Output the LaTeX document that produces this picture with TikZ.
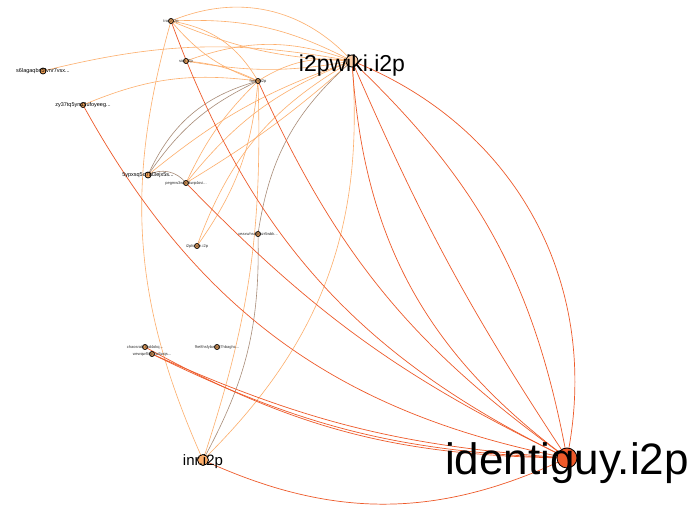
\documentclass[tikz,border=0pt]{standalone}
\usepackage{fontspec}
\setmainfont{Liberation Sans}
\begin{document}
\begin{tikzpicture}[x=1pt,y=-1pt,
  lo/.style={draw=lightor,line width=0.6pt},
  ro/.style={draw=redor,line width=0.7pt},
  br/.style={draw=brownish,line width=0.6pt},
  dot/.style={circle,draw=black,line width=0.8pt,fill=nodeor,inner sep=0pt,minimum size=5pt},
  tiny/.style={font=\fontsize{4}{4}\selectfont,text=black!80,inner sep=0pt},
  small/.style={font=\fontsize{5.5}{5.5}\selectfont,inner sep=0pt}]
\definecolor{lightor}{HTML}{FDAE6B}
\definecolor{redor}{HTML}{EE5A2A}
\definecolor{brownish}{HTML}{A88C78}
\definecolor{nodeor}{HTML}{F5A55A}
\useasboundingbox (0,0) rectangle (689,510);
\fill[white] (0,0) rectangle (689,510);
% node positions
\coordinate (A) at (171,21);
\coordinate (B) at (186,61);
\coordinate (C) at (258,81);
\coordinate (D) at (352,61);
\coordinate (E) at (43,71);
\coordinate (F) at (83,105);
\coordinate (G) at (148,175);
\coordinate (H) at (186,183);
\coordinate (I) at (197,246);
\coordinate (J) at (258,234);
\coordinate (K) at (145,347);
\coordinate (L) at (152,354);
\coordinate (M) at (217,347);
\coordinate (N) at (203,460);
\coordinate (O) at (567,458);
% light orange edges
\draw[lo] (A) to[bend left=35] (D);
\draw[lo] (A) to[bend left=15] (D);
\draw[lo] (A) to[bend right=10] (D);
\draw[lo] (A) to[bend left=25] (C);
\draw[lo] (A) to[bend right=15] (C);
\draw[lo] (B) to[bend left=20] (D);
\draw[lo] (B) to[bend right=10] (D);
\draw[lo] (B) to[bend left=10] (C);
\draw[lo] (C) to[bend left=20] (D);
\draw[lo] (E) to[bend left=12] (D);
\draw[lo] (F) to[bend left=15] (C);
\draw[lo] (G) to[bend left=10] (D);
\draw[lo] (H) to[bend left=15] (D);
\draw[lo] (H) to[bend right=5] (D);
\draw[lo] (H) to[bend left=10] (C);
\draw[lo] (I) to[bend left=20] (D);
\draw[lo] (I) to[bend right=15] (C);
\draw[lo] (N) to[bend right=25] (D);
\draw[lo] (N) to[bend left=20] (A);
\draw[lo] (N) to[bend right=10] (C);
% brown edges
\draw[br] (G) to[bend left=25] (C);
\draw[br] (G) to[bend left=15] (C);
\draw[br] (G) to[bend left=40] (H);
\draw[br] (D) to[bend right=20] (J);
\draw[br] (J) to[bend left=15] (N);
% red edges
\draw[ro] (D) to[bend left=40] (O);
\draw[ro] (D) to[bend left=18] (O);
\draw[ro] (D) to[bend right=5] (O);
\draw[ro] (D) to[bend right=25] (O);
\draw[ro] (A) to[bend right=22] (O);
\draw[ro] (C) to[bend right=15] (O);
\draw[ro] (F) to[bend right=25] (O);
\draw[ro] (H) to[bend right=10] (O);
\draw[ro] (K) to[bend right=14] (O);
\draw[ro] (L) to[bend right=10] (O);
\draw[ro] (L) to[bend right=12] (O);
\draw[ro] (N) to[bend right=25] (O);
% nodes
\node[dot] (nA) at (A) {};
\node[dot] (nB) at (B) {};
\node[dot] (nC) at (C) {};
\node[dot,minimum size=12pt,fill=lightor!60] (nD) at (D) {};
\node[dot,minimum size=6pt] (nE) at (E) {};
\node[dot] (nF) at (F) {};
\node[dot,minimum size=6pt] (nG) at (G) {};
\node[dot] (nH) at (H) {};
\node[dot] (nI) at (I) {};
\node[dot] (nJ) at (J) {};
\node[dot] (nK) at (K) {};
\node[dot] (nL) at (L) {};
\node[dot] (nM) at (M) {};
\node[dot,minimum size=11pt,fill=lightor] (nN) at (N) {};
\node[dot,minimum size=20pt,fill=redor] (nO) at (O) {};
% labels
\node[tiny] at (A) {tracz.i2p};
\node[tiny] at (B) {sion.i2p};
\node[tiny] at (C) {forum.i2p};
\node[small] at (E) {s6lagaqbn5fvnr7vsx...};
\node[small] at (F) {zy37tq5ynu3ufoyeeg...};
\node[small] at (G) {5ypxsq5o7al3ejx5s...};
\node[tiny] at (H) {pegmw3wta5kwp4ovi...};
\node[tiny] at (I) {i2pforum.i2p};
\node[tiny] at (J) {xeaxwhsddrhzr5wbk...};
\node[tiny] at (K) {chaosratx3hd4okq...};
\node[tiny] at (L) {wewqwfl4qt3w5wqs...};
\node[tiny] at (M) {fhe8hsfybw5dj7hbaghc...};
\node[font=\fontsize{23}{23}\selectfont,inner sep=0pt] at ([yshift=-5pt]D) {i2pwiki.i2p};
\node[font=\fontsize{15}{15}\selectfont,inner sep=0pt] at ([yshift=-2pt]N) {inr.i2p};
\node[font=\fontsize{44}{44}\selectfont,inner sep=0pt] at ([yshift=-5pt]O) {identiguy.i2p};
\end{tikzpicture}
\end{document}
